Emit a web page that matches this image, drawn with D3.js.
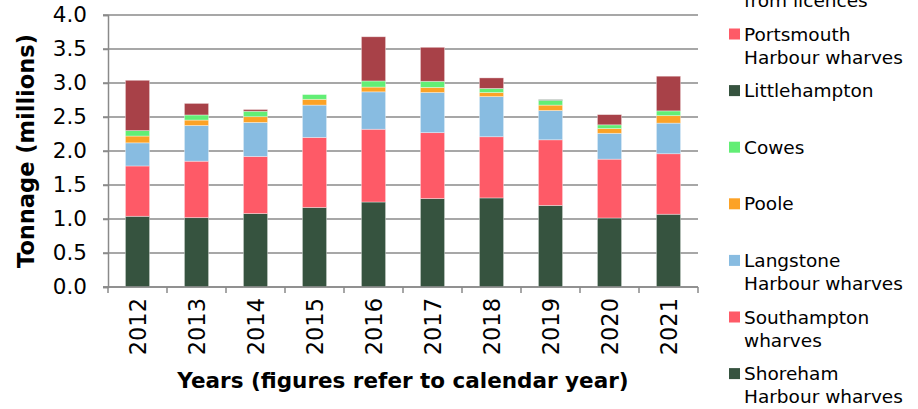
<!DOCTYPE html>
<html>
<head>
<meta charset="utf-8">
<script src="https://cdn.jsdelivr.net/npm/d3@7"></script>
<style>
  body { margin: 0; background: #fff; }
  text { font-family: "DejaVu Sans", Verdana, sans-serif; fill: #000; }
</style>
</head>
<body>
<div id="chart"></div>
<script>
// values in millions of tonnes
const years = ['2012', '2013', '2014', '2015', '2016', '2017', '2018', '2019', '2020', '2021'];
const shoreham = [1.04, 1.02, 1.08, 1.17, 1.25, 1.30, 1.31, 1.20, 1.015, 1.07];
const southampton = [0.74, 0.83, 0.84, 1.03, 1.07, 0.97, 0.90, 0.965, 0.865, 0.89];
const langstone = [0.34, 0.525, 0.50, 0.475, 0.55, 0.59, 0.59, 0.43, 0.38, 0.45];
const poole = [0.10, 0.08, 0.085, 0.085, 0.07, 0.075, 0.06, 0.08, 0.07, 0.11];
const cowes = [0.08, 0.075, 0.08, 0.07, 0.09, 0.09, 0.06, 0.07, 0.055, 0.07];
const littlehampton = [0, 0, 0, 0, 0, 0, 0, 0.01, 0, 0];
const portsmouth = [0, 0, 0, 0, 0, 0, 0, 0, 0, 0];
const exportsLicences = [0.74, 0.17, 0.025, 0, 0.65, 0.50, 0.155, 0, 0.15, 0.51];
const yTicks = [0, 0.5, 1, 1.5, 2, 2.5, 3, 3.5, 4];

// bottom of stack first
const series = [
  {key: 'shoreham', lines: ['Shoreham', 'Harbour wharves'], color: '#36533f', values: shoreham},
  {key: 'southampton', lines: ['Southampton', 'wharves'], color: '#fe5a67', values: southampton},
  {key: 'langstone', lines: ['Langstone', 'Harbour wharves'], color: '#88bce1', values: langstone},
  {key: 'poole', lines: ['Poole'], color: '#fca226', values: poole},
  {key: 'cowes', lines: ['Cowes'], color: '#62ee75', values: cowes},
  {key: 'littlehampton', lines: ['Littlehampton'], color: '#36533f', values: littlehampton},
  {key: 'portsmouth', lines: ['Portsmouth', 'Harbour wharves'], color: '#fe5a67', values: portsmouth},
  {key: 'exports', lines: ['Exported direct', 'from licences'], color: '#a84148', values: exportsLicences}
];

const width = 918, height = 409;
const margin = {left: 108, right: 220, top: 15, bottom: 122};

const table = years.map((y, i) => {
  const row = {year: y};
  series.forEach(s => { row[s.key] = s.values[i]; });
  return row;
});

const svg = d3.select('#chart').append('svg')
  .attr('width', width).attr('height', height);

const x = d3.scaleBand()
  .domain(years)
  .range([margin.left, width - margin.right])
  .paddingInner(0.59)
  .paddingOuter(0.295);

const y = d3.scaleLinear()
  .domain([0, 4])
  .range([height - margin.bottom, margin.top]);

// gridlines
svg.append('g')
  .selectAll('line')
  .data(yTicks)
  .enter()
  .append('line')
  .attr('x1', margin.left - 5).attr('x2', width - margin.right)
  .attr('y1', d => y(d)).attr('y2', d => y(d))
  .attr('stroke', '#8a8a8a')
  .attr('stroke-width', 1.5);

// bars
const stack = d3.stack().keys(series.map(s => s.key));
const layers = stack(table);

svg.append('g')
  .selectAll('g')
  .data(layers)
  .enter()
  .append('g')
  .attr('fill', (d, i) => series[i].color)
  .selectAll('rect')
  .data(d => d.filter(p => p[1] - p[0] > 0))
  .enter()
  .append('rect')
  .attr('x', d => x(d.data.year))
  .attr('width', x.bandwidth())
  .attr('y', d => y(d[1]))
  .attr('height', d => y(d[0]) - y(d[1]))
  .attr('stroke', 'rgba(255,255,255,0.45)')
  .attr('stroke-width', 0.8);

// y axis
const yAxis = svg.append('g')
  .attr('transform', 'translate(' + margin.left + ',0)')
  .call(d3.axisLeft(y).tickValues(yTicks).tickFormat(d3.format('.1f')).tickSize(5).tickPadding(16));
yAxis.select('.domain').attr('stroke', '#8a8a8a').attr('stroke-width', 1.5);
yAxis.selectAll('.tick line').attr('stroke', '#8a8a8a').attr('stroke-width', 1.5);
yAxis.selectAll('.tick text')
  .attr('font-size', '21.5px')
  .attr('font-family', '"DejaVu Sans", Verdana, sans-serif')
  .attr('fill', '#000');

// x axis with ticks at category boundaries
const baseY = y(0);
svg.append('line')
  .attr('x1', margin.left - 5).attr('x2', width - margin.right)
  .attr('y1', baseY).attr('y2', baseY)
  .attr('stroke', '#8a8a8a').attr('stroke-width', 1.5);

svg.append('g')
  .selectAll('line')
  .data(years.concat(['end']))
  .enter()
  .append('line')
  .attr('x1', (d, i) => margin.left + i * x.step())
  .attr('x2', (d, i) => margin.left + i * x.step())
  .attr('y1', baseY).attr('y2', baseY + 6)
  .attr('stroke', '#8a8a8a').attr('stroke-width', 1.5);

svg.append('g')
  .selectAll('text')
  .data(years)
  .enter()
  .append('text')
  .attr('transform', d => 'translate(' + (x(d) + x.bandwidth() / 2 + 8) + ',' + (baseY + 11) + ') rotate(-90)')
  .attr('text-anchor', 'end')
  .attr('font-size', '22.5px')
  .text(d => d);

// axis titles
svg.append('text')
  .attr('transform', 'translate(34,' + ((margin.top + baseY) / 2) + ') rotate(-90)')
  .attr('text-anchor', 'middle')
  .attr('font-size', '22.5px')
  .attr('font-weight', 'bold')
  .text('Tonnage (millions)');

svg.append('text')
  .attr('x', 403).attr('y', 388)
  .attr('text-anchor', 'middle')
  .attr('font-size', '21.5px')
  .attr('font-weight', 'bold')
  .text('Years (figures refer to calendar year)');

// legend, top item first
const legendItems = series.slice().reverse();
const legend = svg.append('g')
  .selectAll('g')
  .data(legendItems)
  .enter()
  .append('g')
  .attr('transform', (d, i) => 'translate(729,' + (-22.6 + i * 56.6) + ')');

legend.append('rect')
  .attr('x', 0).attr('y', -5.5)
  .attr('width', 11).attr('height', 11)
  .attr('fill', d => d.color);

legend.append('text')
  .attr('x', 15)
  .attr('font-size', '18.5px')
  .selectAll('tspan')
  .data(d => d.lines)
  .enter()
  .append('tspan')
  .attr('x', 15)
  .attr('y', (d, i) => 6.5 + i * 23)
  .text(d => d);
</script>
</body>
</html>
